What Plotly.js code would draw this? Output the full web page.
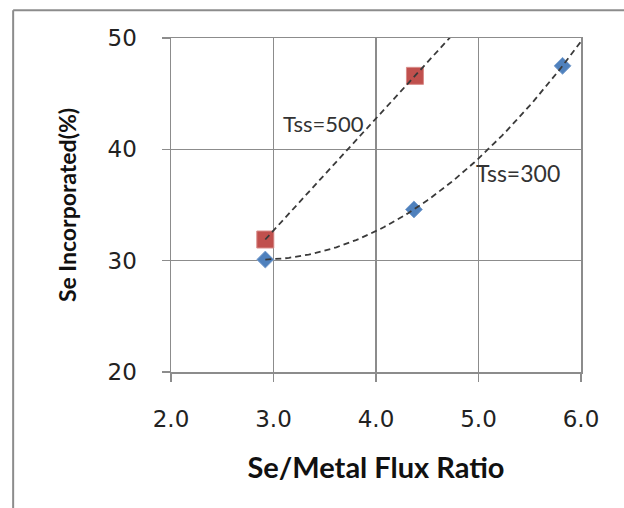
<!DOCTYPE html>
<html>
<head>
<meta charset="utf-8">
<script src="https://cdn.plot.ly/plotly-3.0.1.min.js"></script>
<style>
html,body{margin:0;padding:0;background:#fff;}
#chart{width:624px;height:508px;}
</style>
</head>
<body>
<div id="chart"></div>
<script>
// Data
const fluxRatio300 = [2.92, 4.37, 5.82];
const seInc300 = [30.1, 34.6, 47.5];
const fluxRatio500 = [2.92, 4.38];
const seInc500 = [31.9, 46.6];
const trendLabels = ['Tss=500', 'Tss=300'];
const xTicks = [2, 3, 4, 5, 6];
const yTicks = [20, 30, 40, 50];

// Least-squares polynomial fit (trendline like the spreadsheet's)
function polyfit(xs, ys, order) {
  const n = order + 1;
  const A = [], b = [];
  for (let i = 0; i < n; i++) {
    A.push(new Array(n).fill(0));
    b.push(0);
  }
  for (let k = 0; k < xs.length; k++) {
    for (let i = 0; i < n; i++) {
      for (let j = 0; j < n; j++) A[i][j] += Math.pow(xs[k], i + j);
      b[i] += ys[k] * Math.pow(xs[k], i);
    }
  }
  for (let i = 0; i < n; i++) {
    let p = i;
    for (let r = i + 1; r < n; r++) if (Math.abs(A[r][i]) > Math.abs(A[p][i])) p = r;
    [A[i], A[p]] = [A[p], A[i]];
    [b[i], b[p]] = [b[p], b[i]];
    for (let r = i + 1; r < n; r++) {
      const f = A[r][i] / A[i][i];
      for (let c = i; c < n; c++) A[r][c] -= f * A[i][c];
      b[r] -= f * b[i];
    }
  }
  const coef = new Array(n).fill(0);
  for (let i = n - 1; i >= 0; i--) {
    let s = b[i];
    for (let c = i + 1; c < n; c++) s -= A[i][c] * coef[c];
    coef[i] = s / A[i][i];
  }
  return coef;
}
function evalPoly(coef, x) {
  return coef.reduce((s, c, i) => s + c * Math.pow(x, i), 0);
}
function trend(xs, ys, order, x0, x1) {
  const coef = polyfit(xs, ys, order);
  const tx = [], ty = [];
  const steps = 80;
  for (let i = 0; i <= steps; i++) {
    const x = x0 + (x1 - x0) * i / steps;
    tx.push(x);
    ty.push(evalPoly(coef, x));
  }
  return {tx, ty};
}

const t500 = trend(fluxRatio500, seInc500, 1, fluxRatio500[0], 4.8);
const t300 = trend(fluxRatio300, seInc300, 2, fluxRatio300[0], 6.0);

const dashLine = {color: '#3a3a3a', width: 1.8, dash: '6px,4px'};

const traces = [
  {x: fluxRatio500, y: seInc500, mode: 'markers', showlegend: false, cliponaxis: false,
   marker: {symbol: 'square', size: 17, color: '#C0504D', line: {color: '#D98C8A', width: 1}}},
  {x: fluxRatio300, y: seInc300, mode: 'markers', showlegend: false, cliponaxis: false,
   marker: {symbol: 'diamond', size: 13, color: '#4F81BD', line: {color: '#7FA3D1', width: 1}}},
  {x: t500.tx, y: t500.ty, mode: 'lines', line: dashLine, hoverinfo: 'skip', showlegend: false},
  {x: t300.tx, y: t300.ty, mode: 'lines', line: dashLine, hoverinfo: 'skip', showlegend: false}
];

const gridCol = '#8c8c8c';
const layout = {
  width: 624, height: 508,
  margin: {l: 171, r: 43, t: 38, b: 136},
  paper_bgcolor: '#ffffff', plot_bgcolor: '#ffffff',
  showlegend: false,
  xaxis: {
    range: [2, 6], tickvals: xTicks, ticktext: xTicks.map(v => v.toFixed(1)),
    showgrid: true, gridcolor: gridCol, gridwidth: 1.5,
    showline: true, linecolor: gridCol, linewidth: 1.5, mirror: true,
    ticks: 'outside', ticklen: 8, tickcolor: gridCol, tickwidth: 1.5,
    ticklabelstandoff: 18,
    zeroline: false,
    tickfont: {family: 'DejaVu Sans', size: 23, color: '#222'},
    title: {text: 'Se/Metal Flux Ratio', standoff: 26,
            font: {family: 'Lato', size: 29, color: '#111', weight: 'bold'}}
  },
  yaxis: {
    range: [20, 50], tickvals: yTicks,
    showgrid: true, gridcolor: gridCol, gridwidth: 1.5,
    showline: true, linecolor: gridCol, linewidth: 1.5, mirror: true,
    ticks: 'outside', ticklen: 8, tickcolor: gridCol, tickwidth: 1.5,
    ticklabelstandoff: 20,
    zeroline: false,
    tickfont: {family: 'DejaVu Sans', size: 23, color: '#222'},
    title: {text: 'Se Incorporated(%)', standoff: 24,
            font: {family: 'Lato', size: 23, color: '#111', weight: 'bold'}}
  },
  annotations: [
    {x: 3.07, y: 42.3, xref: 'x', yref: 'y', text: trendLabels[0], showarrow: false,
     xanchor: 'left', yanchor: 'middle', font: {family: 'Lato', size: 22, color: '#333'}},
    {x: 4.96, y: 37.9, xref: 'x', yref: 'y', text: trendLabels[1], showarrow: false,
     xanchor: 'left', yanchor: 'middle', font: {family: 'Lato', size: 23, color: '#333'}}
  ],
  shapes: [
    {type: 'line', xref: 'paper', yref: 'paper', x0: -0.385, x1: -0.385, y0: -0.6, y1: 1.083,
     line: {color: '#8c8c8c', width: 2}},
    {type: 'line', xref: 'paper', yref: 'paper', x0: -0.385, x1: 1.2, y0: 1.083, y1: 1.083,
     line: {color: '#8c8c8c', width: 2}}
  ]
};

Plotly.newPlot('chart', traces, layout, {staticPlot: true, displayModeBar: false});
</script>
</body>
</html>
